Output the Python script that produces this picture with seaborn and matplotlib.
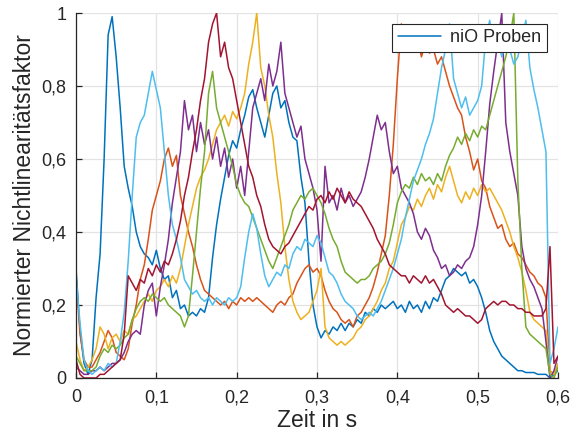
import numpy as np
import pandas as pd
import seaborn as sns
import matplotlib
matplotlib.use("Agg")
import matplotlib.pyplot as plt
from matplotlib.ticker import FuncFormatter, FixedLocator

# time axis (s), sampled every 5 ms
t = [round(i * 0.005, 3) for i in range(121)]

blue = [0.30, 0.13, 0.04, 0.01, 0.05, 0.22, 0.34, 0.60, 0.94, 0.99,
        0.88, 0.74, 0.58, 0.52, 0.47, 0.40, 0.36, 0.34, 0.33, 0.31,
        0.35, 0.30, 0.27, 0.28, 0.22, 0.24, 0.19, 0.20, 0.17, 0.18,
        0.17, 0.19, 0.18, 0.22, 0.33, 0.42, 0.49, 0.55, 0.61, 0.65,
        0.63, 0.68, 0.72, 0.77, 0.79, 0.74, 0.70, 0.66, 0.72, 0.78,
        0.80, 0.74, 0.76, 0.70, 0.66, 0.65, 0.55, 0.48, 0.32, 0.20,
        0.14, 0.11, 0.13, 0.12, 0.14, 0.13, 0.15, 0.13, 0.15, 0.14,
        0.16, 0.15, 0.18, 0.17, 0.19, 0.18, 0.20, 0.19, 0.20, 0.21,
        0.19, 0.20, 0.18, 0.21, 0.19, 0.20, 0.18, 0.21, 0.19, 0.22,
        0.21, 0.24, 0.27, 0.28, 0.30, 0.29, 0.28, 0.29, 0.26, 0.27,
        0.25, 0.22, 0.18, 0.13, 0.10, 0.08, 0.06, 0.05, 0.04, 0.03,
        0.02, 0.02, 0.015, 0.015, 0.015, 0.01, 0.01, 0.01, 0.00, 0.01,
        0.02]

orange = [0.28, 0.12, 0.05, 0.03, 0.03, 0.05, 0.07, 0.10, 0.13, 0.11,
          0.07, 0.06, 0.05, 0.08, 0.15, 0.20, 0.27, 0.31, 0.38, 0.46,
          0.50, 0.54, 0.60, 0.63, 0.58, 0.61, 0.50, 0.45, 0.40, 0.36,
          0.31, 0.27, 0.24, 0.23, 0.22, 0.21, 0.20, 0.21, 0.19, 0.21,
          0.20, 0.22, 0.21, 0.22, 0.21, 0.22, 0.21, 0.20, 0.19, 0.18,
          0.20, 0.21, 0.20, 0.22, 0.23, 0.26, 0.28, 0.30, 0.31, 0.29,
          0.30, 0.28, 0.24, 0.21, 0.19, 0.18, 0.16, 0.15, 0.16, 0.14,
          0.17, 0.18, 0.20, 0.22, 0.25, 0.29, 0.34, 0.39, 0.50, 0.64,
          0.82, 0.97, 0.93, 0.95, 0.90, 0.93, 0.88, 0.92, 0.89, 0.90,
          0.86, 0.88, 0.84, 0.80, 0.77, 0.74, 0.72, 0.66, 0.62, 0.57,
          0.60, 0.54, 0.52, 0.47, 0.44, 0.41, 0.42, 0.38, 0.36, 0.37,
          0.34, 0.33, 0.31, 0.29, 0.28, 0.26, 0.25, 0.22, 0.02, 0.01,
          0.03]

yellow = [0.10, 0.05, 0.02, 0.03, 0.05, 0.08, 0.14, 0.12, 0.08, 0.11,
          0.12, 0.10, 0.13, 0.12, 0.16, 0.17, 0.19, 0.21, 0.23, 0.21,
          0.24, 0.25, 0.27, 0.25, 0.28, 0.26, 0.30, 0.36, 0.42, 0.47,
          0.52, 0.55, 0.57, 0.60, 0.64, 0.68, 0.70, 0.72, 0.69, 0.73,
          0.71, 0.74, 0.78, 0.86, 0.92, 1.00, 0.85, 0.80, 0.72, 0.66,
          0.56, 0.48, 0.36, 0.27, 0.21, 0.18, 0.16, 0.17, 0.18, 0.21,
          0.24, 0.30, 0.14, 0.11, 0.10, 0.09, 0.10, 0.09, 0.10, 0.11,
          0.13, 0.14, 0.16, 0.17, 0.19, 0.21, 0.24, 0.26, 0.30, 0.32,
          0.37, 0.42, 0.44, 0.47, 0.46, 0.49, 0.47, 0.50, 0.52, 0.49,
          0.53, 0.51, 0.55, 0.58, 0.54, 0.50, 0.48, 0.51, 0.49, 0.52,
          0.50, 0.53, 0.51, 0.52, 0.50, 0.48, 0.46, 0.43, 0.40, 0.36,
          0.33, 0.29, 0.24, 0.18, 0.16, 0.15, 0.14, 0.13, 0.02, 0.01,
          0.04]

purple = [0.03, 0.02, 0.01, 0.01, 0.02, 0.02, 0.03, 0.02, 0.03, 0.04,
          0.04, 0.05, 0.07, 0.10, 0.12, 0.13, 0.12, 0.20, 0.24, 0.26,
          0.17, 0.25, 0.31, 0.38, 0.48, 0.55, 0.62, 0.76, 0.68, 0.72,
          0.62, 0.70, 0.64, 0.68, 0.60, 0.66, 0.58, 0.63, 0.55, 0.60,
          0.52, 0.58, 0.50, 0.62, 0.74, 0.78, 0.82, 0.76, 0.86, 0.80,
          0.84, 0.92, 0.78, 0.74, 0.70, 0.66, 0.69, 0.60, 0.56, 0.52,
          0.46, 0.32, 0.58, 0.48, 0.50, 0.46, 0.52, 0.48, 0.50, 0.47,
          0.49, 0.51, 0.55, 0.60, 0.66, 0.72, 0.68, 0.70, 0.62, 0.56,
          0.58, 0.52, 0.50, 0.48, 0.45, 0.40, 0.38, 0.41, 0.39, 0.35,
          0.33, 0.30, 0.31, 0.28, 0.29, 0.31, 0.30, 0.32, 0.33, 0.36,
          0.42, 0.50, 0.62, 0.75, 0.84, 0.92, 1.00, 0.70, 0.62, 0.56,
          0.50, 0.36, 0.30, 0.27, 0.25, 0.22, 0.19, 0.10, 0.00, 0.02,
          0.06]

green = [0.06, 0.04, 0.02, 0.02, 0.02, 0.03, 0.06, 0.08, 0.07, 0.09,
         0.08, 0.09, 0.11, 0.12, 0.16, 0.19, 0.21, 0.22, 0.21, 0.23,
         0.22, 0.21, 0.22, 0.20, 0.19, 0.18, 0.17, 0.14, 0.17, 0.28,
         0.40, 0.52, 0.62, 0.78, 0.84, 0.74, 0.70, 0.66, 0.62, 0.58,
         0.53, 0.50, 0.48, 0.47, 0.44, 0.41, 0.38, 0.35, 0.32, 0.30,
         0.33, 0.36, 0.39, 0.42, 0.46, 0.48, 0.50, 0.49, 0.51, 0.52,
         0.50, 0.48, 0.45, 0.41, 0.38, 0.36, 0.32, 0.29, 0.28, 0.27,
         0.26, 0.27, 0.27, 0.28, 0.30, 0.31, 0.32, 0.34, 0.37, 0.42,
         0.48, 0.51, 0.53, 0.52, 0.55, 0.53, 0.56, 0.54, 0.55, 0.53,
         0.56, 0.54, 0.58, 0.61, 0.63, 0.66, 0.64, 0.67, 0.65, 0.68,
         0.66, 0.69, 0.68, 0.72, 0.76, 0.80, 0.84, 0.88, 0.93, 1.00,
         0.54, 0.30, 0.14, 0.12, 0.11, 0.10, 0.09, 0.08, 0.01, 0.00,
         0.03]

lightblue = [0.28, 0.15, 0.05, 0.02, 0.01, 0.02, 0.03, 0.02, 0.04, 0.03,
             0.04, 0.10, 0.18, 0.32, 0.50, 0.66, 0.70, 0.72, 0.78, 0.84,
             0.79, 0.74, 0.62, 0.50, 0.42, 0.38, 0.33, 0.27, 0.25, 0.23,
             0.24, 0.22, 0.21, 0.22, 0.20, 0.22, 0.21, 0.20, 0.22, 0.21,
             0.22, 0.25, 0.33, 0.40, 0.45, 0.41, 0.34, 0.28, 0.25, 0.27,
             0.29, 0.28, 0.31, 0.30, 0.34, 0.36, 0.35, 0.38, 0.37, 0.36,
             0.39, 0.37, 0.33, 0.29, 0.28, 0.26, 0.23, 0.21, 0.20, 0.19,
             0.17, 0.16, 0.17, 0.18, 0.17, 0.19, 0.21, 0.24, 0.27, 0.30,
             0.34, 0.38, 0.44, 0.49, 0.54, 0.57, 0.60, 0.64, 0.67, 0.71,
             0.78, 0.85, 0.90, 0.97, 0.82, 0.78, 0.74, 0.77, 0.72, 0.74,
             0.76, 0.80, 0.93, 0.98, 0.90, 0.93, 0.88, 0.92, 0.90, 0.86,
             0.88, 0.93, 0.98, 0.85, 0.79, 0.74, 0.68, 0.62, 0.04, 0.08,
             0.14]

darkred = [0.05, 0.01, 0.00, 0.00, 0.00, 0.00, 0.01, 0.01, 0.02, 0.03,
           0.04, 0.05, 0.12, 0.28, 0.26, 0.24, 0.27, 0.26, 0.30, 0.28,
           0.31, 0.29, 0.32, 0.31, 0.34, 0.38, 0.43, 0.50, 0.55, 0.62,
           0.68, 0.76, 0.82, 0.92, 0.97, 1.00, 0.88, 0.92, 0.85, 0.82,
           0.76, 0.70, 0.64, 0.58, 0.55, 0.50, 0.47, 0.42, 0.38, 0.36,
           0.35, 0.34, 0.36, 0.37, 0.39, 0.41, 0.43, 0.45, 0.47, 0.46,
           0.49, 0.50, 0.48, 0.51, 0.49, 0.52, 0.50, 0.48, 0.51, 0.49,
           0.48, 0.47, 0.45, 0.43, 0.41, 0.38, 0.36, 0.34, 0.31, 0.30,
           0.29, 0.28, 0.28, 0.26, 0.28, 0.27, 0.26, 0.28, 0.26, 0.27,
           0.25, 0.23, 0.20, 0.19, 0.18, 0.19, 0.18, 0.17, 0.17, 0.16,
           0.15, 0.16, 0.19, 0.20, 0.21, 0.20, 0.21, 0.21, 0.20, 0.20,
           0.19, 0.19, 0.18, 0.18, 0.17, 0.17, 0.17, 0.19, 0.36, 0.04,
           0.06]

series_names = ["niO Proben", "s2", "s3", "s4", "s5", "s6", "s7"]
series_values = [blue, orange, yellow, purple, green, lightblue, darkred]
colors = ["#0072BD", "#D95319", "#EDB120", "#7E2F8E", "#77AC30", "#4DBEEE", "#A2142F"]

x_ticks = [0, 0.1, 0.2, 0.3, 0.4, 0.5, 0.6]
y_ticks = [0, 0.2, 0.4, 0.6, 0.8, 1.0]

frames = []
for name, vals in zip(series_names, series_values):
    frames.append(pd.DataFrame({"t": t, "v": vals, "s": name}))
df = pd.concat(frames, ignore_index=True)

sns.set_theme(style="white")
plt.rcParams["font.family"] = ["Liberation Sans", "DejaVu Sans"]

fig = plt.figure(figsize=(5.78, 4.41), dpi=100)
ax = fig.add_axes([76 / 578, 1 - 378 / 441, (558 - 76) / 578, (378 - 13) / 441])

sns.lineplot(data=df, x="t", y="v", hue="s", palette=colors, hue_order=series_names,
             estimator=None, sort=False, linewidth=1.1, legend=False, ax=ax)

ax.set_xlim(0, 0.6)
ax.set_ylim(0, 1)
ax.xaxis.set_major_locator(FixedLocator(x_ticks))
ax.yaxis.set_major_locator(FixedLocator(y_ticks))
fmt = FuncFormatter(lambda v, p: ("%g" % round(v, 2)).replace(".", ","))
ax.xaxis.set_major_formatter(fmt)
ax.yaxis.set_major_formatter(fmt)

ax.grid(True, color="#e3e3e3", linewidth=0.9)
ax.set_axisbelow(True)
for side in ["top", "right"]:
    ax.spines[side].set_visible(False)
for side in ["left", "bottom"]:
    ax.spines[side].set_color("#262626")
    ax.spines[side].set_linewidth(0.9)
ax.tick_params(direction="in", length=4, width=0.9, colors="#262626",
               labelsize=13, labelcolor="#262626", bottom=True, left=True)
ax.tick_params(axis="x", pad=8)
ax.tick_params(axis="y", pad=7)

ax.set_xlabel("Zeit in s", fontsize=16.5, color="#262626", labelpad=2)
ax.set_ylabel("Normierter Nichtlinearitätsfaktor", fontsize=16.5, color="#262626", labelpad=4)

leg = ax.legend(handles=[ax.lines[0]], labels=["niO Proben"], loc="upper right",
                fontsize=13, frameon=True, fancybox=False, framealpha=1,
                edgecolor="#262626", handlelength=2.4, borderpad=0.3,
                handletextpad=0.5, bbox_to_anchor=(0.995, 0.995))
leg.get_frame().set_linewidth(0.8)

fig.savefig("out.png", dpi=100)
